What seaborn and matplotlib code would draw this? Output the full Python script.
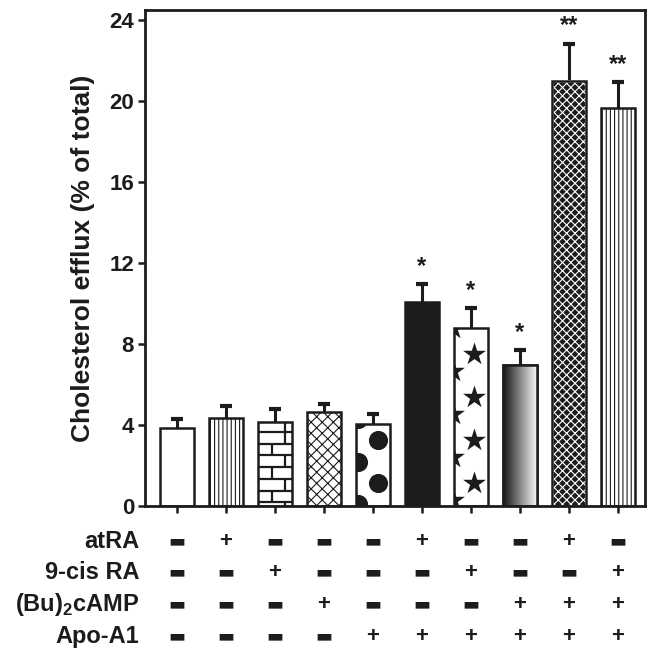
import numpy as np
import pandas as pd
import matplotlib
matplotlib.use("Agg")
import matplotlib.pyplot as plt
import matplotlib.transforms as mtransforms
from matplotlib.patches import Rectangle
import seaborn as sns

# data
groups = ["ctrl", "atRA", "9cRA", "cAMP", "ApoA1",
          "atRA+A1", "9cRA+A1", "cAMP+A1", "atRA+cAMP+A1", "9cRA+cAMP+A1"]
efflux = [3.85, 4.35, 4.15, 4.65, 4.05, 10.07, 8.80, 6.96, 20.99, 19.65]
sem = [0.45, 0.58, 0.62, 0.40, 0.50, 0.90, 0.98, 0.74, 1.85, 1.30]
signif = ["", "", "", "", "", "*", "*", "*", "**", "**"]

row_names = ["atRA", "9-cis RA", r"(Bu)$_\mathbf{2}$cAMP", "Apo-A1"]
atra = ["-", "+", "-", "-", "-", "+", "-", "-", "+", "-"]
cis_ra = ["-", "-", "+", "-", "-", "-", "+", "-", "-", "+"]
bu_camp = ["-", "-", "-", "+", "-", "-", "-", "+", "+", "+"]
apo_a1 = ["-", "-", "-", "-", "+", "+", "+", "+", "+", "+"]

INK = "#1c1c1c"


def apply_visual_settings():
    sns.set_theme(style="white")
    plt.rcParams["font.family"] = ["Liberation Sans", "DejaVu Sans"]
    plt.rcParams["font.weight"] = "bold"
    plt.rcParams["mathtext.fontset"] = "custom"
    plt.rcParams["mathtext.bf"] = "Liberation Sans:bold"
    plt.rcParams["mathtext.rm"] = "Liberation Sans:bold"
    plt.rcParams["hatch.linewidth"] = 0.8


def clip_scatter(ax, patch, xs, ys, **kw):
    sc = ax.scatter(xs, ys, color=INK, zorder=2.5, linewidths=0, **kw)
    sc.set_clip_path(patch)


def outline(ax, p):
    ax.add_patch(Rectangle((p.get_x(), 0), p.get_width(), p.get_height(),
                           fill=False, edgecolor=INK, linewidth=1.8,
                           zorder=2.6))


def decorate_bars(ax, bars):
    hatches = [None, "||||", None, "xxx", None, None, None, None, "xxxx", "||||"]
    for i, p in enumerate(bars):
        p.set_edgecolor(INK)
        p.set_linewidth(1.8)
        p.set_facecolor("white")
        if hatches[i]:
            p.set_hatch(hatches[i])
    # solid black
    bars[5].set_facecolor(INK)

    # bricks
    p = bars[2]
    x0, w, h = p.get_x(), p.get_width(), p.get_height()
    ys = np.arange(h - 0.5, 0, -0.58)
    hl = ax.hlines(ys, x0, x0 + w, color=INK, linewidth=1.6, zorder=2.4)
    hl.set_clip_path(p)
    edges = np.append(ys, 0)
    for k in range(len(ys)):
        xv = x0 + (0.79 if k % 2 == 0 else 0.42) * w
        vl = ax.vlines(xv, edges[k + 1], edges[k], color=INK, linewidth=1.6,
                       zorder=2.4)
        vl.set_clip_path(p)
    vl = ax.vlines(x0 + 0.79 * w, ys[0], h, color=INK, linewidth=1.6,
                   zorder=2.4)
    vl.set_clip_path(p)

    # big dots
    p = bars[4]
    x0, w, h = p.get_x(), p.get_width(), p.get_height()
    yr = np.arange(1.14, h + 1, 2.12)
    yl = np.arange(0.07, h + 1, 2.12)
    clip_scatter(ax, p, np.full(len(yr), x0 + 0.66 * w), yr, s=190)
    clip_scatter(ax, p, np.full(len(yl), x0 + 0.05 * w), yl, s=190)

    # stars
    p = bars[6]
    x0, w, h = p.get_x(), p.get_width(), p.get_height()
    yr = np.arange(1.14, h - 0.6, 2.12)
    yl = np.arange(0.3, h, 2.12)
    clip_scatter(ax, p, np.full(len(yr), x0 + 0.6 * w), yr, s=300, marker="*")
    clip_scatter(ax, p, np.full(len(yl), x0 - 0.02 * w), yl, s=300, marker="*")

    # gradient
    p = bars[7]
    x0, w, h = p.get_x(), p.get_width(), p.get_height()
    grad = np.linspace(0.08, 1.0, 256).reshape(1, -1)
    im = ax.imshow(grad, cmap="gray", vmin=0, vmax=1, aspect="auto",
                   extent=(x0, x0 + w, 0, h), zorder=2.2)
    im.set_clip_path(p)
    outline(ax, p)

    # dark crosshatch: black fill, white hatch lines
    p = bars[8]
    p.set_facecolor(INK)
    p.set_edgecolor("white")
    outline(ax, p)


def add_condition_table(ax):
    trans = mtransforms.blended_transform_factory(ax.transData, ax.transAxes)
    rows = [atra, cis_ra, bu_camp, apo_a1]
    row_y = [-0.071, -0.135, -0.199, -0.263]
    for name, signs, y in zip(row_names, rows, row_y):
        ax.text(-0.012, y, name, transform=ax.transAxes, ha="right",
                va="center", fontsize=17, fontweight="bold", color=INK)
        for i, s in enumerate(signs):
            if s == "+":
                ax.text(i, y, "+", transform=trans, ha="center", va="center",
                        fontsize=16, fontweight="bold", color=INK)
            else:
                ax.text(i, y, "\u25ac", transform=trans, ha="center",
                        va="center", fontsize=13, color=INK,
                        family="DejaVu Sans")


def main():
    apply_visual_settings()
    df = pd.DataFrame({"group": groups, "efflux": efflux})

    fig = plt.figure(figsize=(6.54, 6.63), dpi=100)
    ax = fig.add_axes([0.222, 0.237, 0.764, 0.748])

    sns.barplot(data=df, x="group", y="efflux", order=groups, width=0.7,
                errorbar=None, ax=ax, zorder=2)
    bars = list(ax.patches)
    decorate_bars(ax, bars)

    x = np.arange(len(groups))
    ax.errorbar(x, efflux, yerr=sem, fmt="none", ecolor=INK, elinewidth=2.2,
                capsize=4.5, capthick=3, zorder=1.5)

    for i, lab in enumerate(signif):
        if lab:
            ax.text(i, efflux[i] + sem[i] + 0.3, lab, ha="center",
                    va="bottom", fontsize=17, fontweight="bold", color=INK)

    ax.set_xlim(-0.65, 9.55)
    ax.set_ylim(0, 24.5)
    ax.set_yticks(range(0, 25, 4))
    ax.set_xticks(x)
    ax.set_xticklabels([])
    ax.set_xlabel("")
    ax.set_ylabel("Cholesterol efflux (% of total)", fontsize=19,
                  fontweight="bold", color=INK, labelpad=10)
    ax.tick_params(axis="both", direction="out", length=5, width=1.8,
                   color=INK, labelsize=16, labelcolor=INK, pad=3)
    ax.tick_params(axis="y", left=True)
    ax.tick_params(axis="x", bottom=True)
    for lbl in ax.get_yticklabels():
        lbl.set_fontweight("bold")
    for sp in ax.spines.values():
        sp.set_visible(True)
        sp.set_color(INK)
        sp.set_linewidth(2)

    add_condition_table(ax)

    fig.savefig("out.png", dpi=100, facecolor="white")
    plt.close(fig)


if __name__ == "__main__":
    main()
